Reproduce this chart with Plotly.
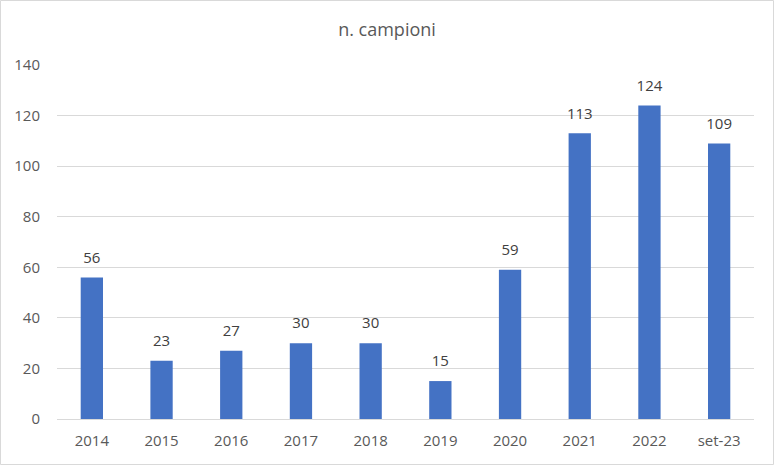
import plotly.graph_objects as go

categories = ["2014", "2015", "2016", "2017", "2018", "2019", "2020", "2021", "2022", "set-23"]
values = [56, 23, 27, 30, 30, 15, 59, 113, 124, 109]
y_ticks = [0, 20, 40, 60, 80, 100, 120, 140]

fig = go.Figure()
fig.add_trace(go.Bar(
    x=categories, y=values,
    marker=dict(color="#4472C4", line=dict(width=0)),
    hoverinfo="x+y",
))
fig.add_trace(go.Scatter(
    x=categories, y=values, mode="markers+text",
    marker=dict(size=16, opacity=0),
    text=[str(v) for v in values], textposition="top center",
    textfont=dict(size=15, color="#404040", family="Open Sans"),
    cliponaxis=False, hoverinfo="skip",
))

fig.update_layout(
    width=774, height=465,
    margin=dict(l=57, r=20, t=65, b=46),
    paper_bgcolor="white", plot_bgcolor="white",
    bargap=0.68,
    showlegend=False,
    font=dict(family="Open Sans", color="#595959", size=15),
    title=dict(text="n. campioni", x=0.5, xanchor="center", y=0.937, yanchor="middle",
               font=dict(size=18, color="#595959", family="Open Sans")),
    xaxis=dict(showgrid=False, showline=True, linecolor="#D9D9D9", linewidth=1,
               ticks="", tickfont=dict(size=15, color="#595959"), fixedrange=True,
               ticklabelstandoff=8, range=[-0.5, len(categories) - 0.5]),
    yaxis=dict(range=[0, 140], tickvals=y_ticks, showgrid=True, gridcolor="#D9D9D9",
               gridwidth=1, zeroline=False, showline=False, ticks="",
               tickfont=dict(size=15, color="#595959"), ticklabelstandoff=16),
    shapes=[dict(type="rect", xref="paper", yref="paper", x0=-56.5/697, x1=1+19.5/697,
                 y0=-45.5/354, y1=1+64.5/354, line=dict(color="#D9D9D9", width=1))],
)

fig.write_html("out.html", config={"displayModeBar": False},
               post_script="document.body.style.margin='0';")
